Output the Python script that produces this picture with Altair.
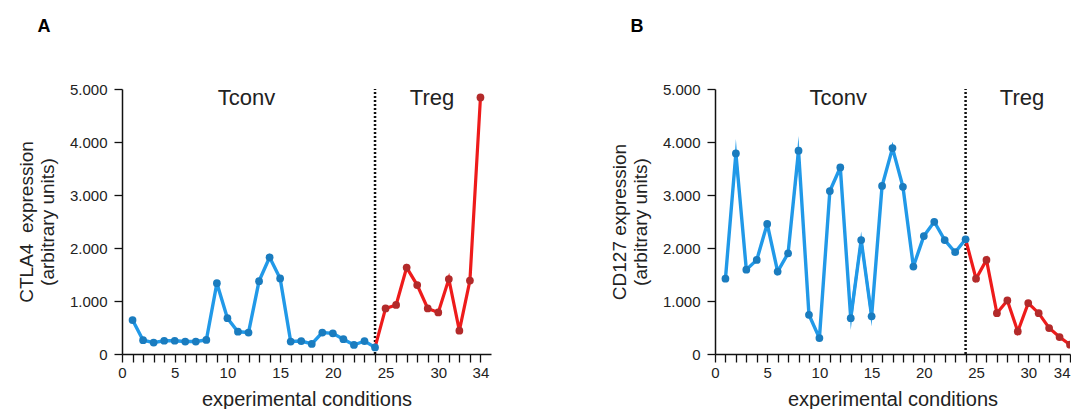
import altair as alt
import pandas as pd

# ---------------- data ----------------
conditions_tconv = list(range(1, 25))
conditions_treg = list(range(25, 35))

ctla4_tconv = [640, 260, 215, 250, 250, 235, 235, 265, 1335, 675, 420, 405, 1375, 1825,
               1425, 235, 245, 190, 405, 390, 280, 170, 245, 125]
ctla4_treg = [860, 925, 1630, 1300, 860, 785, 1415, 440, 1385, 4840]

cd127_tconv = [1420, 3785, 1590, 1775, 2455, 1555, 1900, 3835, 740, 300, 3075, 3520,
               675, 2150, 710, 3170, 3885, 3155, 1650, 2225, 2495, 2150, 1920, 2165]
cd127_treg = [1420, 1775, 770, 1010, 425, 960, 770, 490, 320, 175]

cd127_tconv_err = [0, 270, 0, 0, 0, 0, 0, 280, 0, 0, 0, 0, 220, 160, 190, 0, 0, 0,
                   0, 0, 0, 0, 0, 0]

x_label_values = [0, 5, 10, 15, 20, 25, 30, 34]
y_tick_values = [0, 1000, 2000, 3000, 4000, 5000]

BLUE_LINE = "#2199e8"
BLUE_PT = "#1a7cbf"
RED_LINE = "#ee1b1b"
RED_PT = "#b32a2a"
FONT = "Liberation Sans"
TXT = "#222222"

H = 265


def panel(letter, ytitle, tconv, treg, err=None, xmax=35.0, unit=10.55,
          last_right=False, clip=False):
    df_tconv = pd.DataFrame({"x": conditions_tconv, "v": tconv})
    if err is None:
        err = [0] * len(tconv)
    df_tconv["lo"] = [a - b for a, b in zip(tconv, err)]
    df_tconv["hi"] = [a + b for a, b in zip(tconv, err)]
    df_treg_pts = pd.DataFrame({"x": conditions_treg, "v": treg})
    df_treg_line = pd.DataFrame({"x": [conditions_tconv[-1]] + conditions_treg,
                                 "v": [tconv[-1]] + treg})

    xscale = alt.Scale(domain=[0, xmax], nice=False, zero=False)
    yscale = alt.Scale(domain=[0, 5000], nice=False)

    label_align = "center"
    if last_right:
        label_align = {"condition": {"test": "datum.value == 34", "value": "right"},
                       "value": "center"}

    xaxis = alt.Axis(
        values=list(range(0, 35)),
        labelExpr="indexof(%s, datum.value) >= 0 ? datum.label : ''" % str(x_label_values),
        title="experimental conditions", titleFont=FONT, titleFontSize=20,
        titleFontWeight="normal", titleColor=TXT, titlePadding=9,
        labelFont=FONT, labelFontSize=15, labelColor=TXT, labelPadding=3,
        labelFlush=False, labelOverlap=False, labelAlign=label_align,
        tickSize=8, tickColor="#111", tickWidth=1.3,
        domainColor="#111", domainWidth=1.5, grid=False,
    )
    yaxis = alt.Axis(
        values=y_tick_values,
        labelExpr="replace(format(datum.value, ','), ',', '.')",
        title=ytitle, titleFont=FONT, titleFontSize=19, titleFontWeight="normal",
        titleColor=TXT, titlePadding=12, titleLineHeight=21,
        labelFont=FONT, labelFontSize=15, labelColor=TXT, labelPadding=7,
        tickSize=8, tickColor="#111", tickWidth=1.3,
        domainColor="#111", domainWidth=1.5, grid=False,
    )

    X = alt.X("x:Q", scale=xscale, axis=xaxis)
    Y = alt.Y("v:Q", scale=yscale, axis=yaxis)

    line_b = alt.Chart(df_tconv).mark_line(color=BLUE_LINE, strokeWidth=3.4, clip=clip).encode(x=X, y=Y)
    band = alt.Chart(df_tconv).mark_area(color=BLUE_LINE, opacity=0.9, clip=clip).encode(
        x=X,
        y=alt.Y("lo:Q", scale=yscale, axis=yaxis),
        y2="hi:Q",
    )
    line_r = alt.Chart(df_treg_line).mark_line(color=RED_LINE, strokeWidth=3.2, clip=clip).encode(x=X, y=Y)
    pts_r = alt.Chart(df_treg_pts).mark_point(filled=True, color=RED_PT, size=60, opacity=1,
                                              clip=clip).encode(x=X, y=Y)
    pts_b = alt.Chart(df_tconv).mark_point(filled=True, color=BLUE_PT, size=60, opacity=1,
                                           clip=clip).encode(x=X, y=Y)

    rule = alt.Chart(pd.DataFrame({"x": [24]})).mark_rule(
        color="#111", strokeWidth=2.5, strokeDash=[2, 2]
    ).encode(x=X, y=alt.datum(0), y2=alt.datum(5000))

    lab_df = pd.DataFrame({"x": [11.8, 29.4], "v": [4830, 4830], "t": ["Tconv", "Treg"]})
    labels = alt.Chart(lab_df).mark_text(font=FONT, fontSize=22, color=TXT, baseline="middle").encode(
        x=X, y=Y, text="t:N"
    )

    letter_txt = alt.Chart(pd.DataFrame({"t": [letter]})).mark_text(
        font=FONT, fontSize=18, fontWeight="bold", color="#000", baseline="middle"
    ).encode(x=alt.value(-78), y=alt.value(-62), text="t:N")

    return alt.layer(line_b, band, rule, line_r, pts_r, pts_b, labels, letter_txt).properties(
        width=round(xmax * unit), height=H
    )


pa = panel("A", ["CTLA4\u00a0\u00a0expression", "(arbitrary units)"], ctla4_tconv, ctla4_treg)
pb = panel("B", ["CD127 expression", "(arbitrary units)"], cd127_tconv, cd127_treg,
           cd127_tconv_err, xmax=34.0, unit=10.45, last_right=True, clip=True)

chart = alt.hconcat(pa, pb, spacing=119).configure_view(stroke=None).properties(
    background="white",
    padding={"left": 9, "top": 10, "right": 0, "bottom": 0},
)

chart.save("out.html", embed_options={"renderer": "svg", "actions": False})
